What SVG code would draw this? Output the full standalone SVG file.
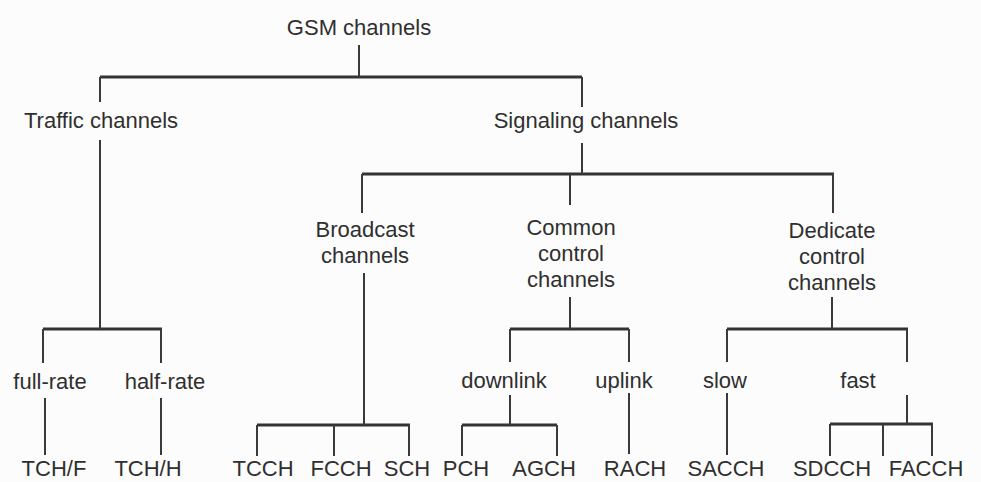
<svg xmlns="http://www.w3.org/2000/svg" width="981" height="482" viewBox="0 0 981 482">
  <style>
    .lbl { font-family: "Liberation Sans", Arial, sans-serif; font-size: 22px; fill: #2f2f2f; text-anchor: middle; }
    .bar { stroke: #333; stroke-width: 3; fill: none; }
    .stem { stroke: #3a3a3a; stroke-width: 2; fill: none; }
  </style>
  <rect width="981" height="482" fill="#fcfcfc"/>

  <!-- tree connectors -->
  <g id="connectors">
    <!-- horizontal bars -->
    <path class="bar" d="M100 77H582 M362 174H834 M43 329H162 M510 329H629 M727 329H908 M257 425H410 M462 425H557 M830 424H933"/>
    <!-- vertical stems -->
    <path class="stem" d="M359 45V77 M100 77V102 M100 140V329 M582 77V107 M582 143V174
      M43 329V363 M161 329V363 M45 398V455 M161 398V455
      M362 174V213 M364 273V425 M257 425V456 M334 425V456 M409 425V456
      M570 174V205 M570 297V329 M510 329V362 M629 329V362 M510 395V425
      M462 425V456 M557 425V456 M629 393V454
      M833 174V213 M832 297V329 M727 329V362 M907 329V362 M727 393V455 M907 395V424
      M830 424V456 M883 424V456 M932 424V456"/>
  </g>

  <g id="gsm"><text class="lbl" x="359" y="35">GSM channels</text></g>
  <g id="traffic"><text class="lbl" x="101" y="128">Traffic channels</text></g>
  <g id="signaling"><text class="lbl" x="586" y="128">Signaling channels</text></g>

  <g id="broadcast">
    <text class="lbl" x="365" y="237">Broadcast</text>
    <text class="lbl" x="365" y="263">channels</text>
  </g>
  <g id="common">
    <text class="lbl" x="571" y="235">Common</text>
    <text class="lbl" x="571" y="261">control</text>
    <text class="lbl" x="571" y="287">channels</text>
  </g>
  <g id="dedicate">
    <text class="lbl" x="832" y="238">Dedicate</text>
    <text class="lbl" x="832" y="264">control</text>
    <text class="lbl" x="832" y="290">channels</text>
  </g>

  <g id="full-rate"><text class="lbl" x="50" y="389">full-rate</text></g>
  <g id="half-rate"><text class="lbl" x="165" y="389">half-rate</text></g>
  <g id="downlink"><text class="lbl" x="504" y="388">downlink</text></g>
  <g id="uplink"><text class="lbl" x="624" y="388">uplink</text></g>
  <g id="slow"><text class="lbl" x="725" y="388">slow</text></g>
  <g id="fast"><text class="lbl" x="858" y="388">fast</text></g>

  <g id="tch-f"><text class="lbl" x="54" y="476">TCH/F</text></g>
  <g id="tch-h"><text class="lbl" x="148" y="476">TCH/H</text></g>
  <g id="tcch"><text class="lbl" x="263" y="476">TCCH</text></g>
  <g id="fcch"><text class="lbl" x="341" y="476">FCCH</text></g>
  <g id="sch"><text class="lbl" x="407" y="476">SCH</text></g>
  <g id="pch"><text class="lbl" x="466" y="476">PCH</text></g>
  <g id="agch"><text class="lbl" x="544" y="476">AGCH</text></g>
  <g id="rach"><text class="lbl" x="635" y="476">RACH</text></g>
  <g id="sacch"><text class="lbl" x="726" y="476">SACCH</text></g>
  <g id="sdcch"><text class="lbl" x="832" y="476">SDCCH</text></g>
  <g id="facch"><text class="lbl" x="926" y="476">FACCH</text></g>
</svg>
